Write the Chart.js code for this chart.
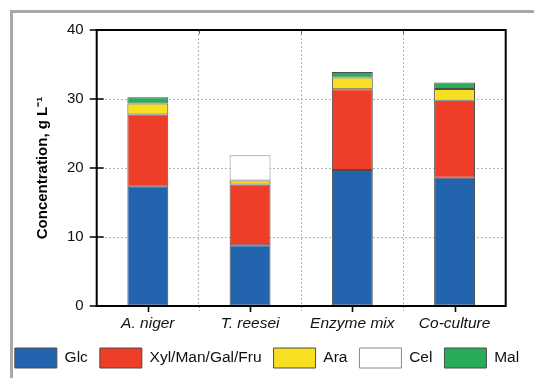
<!DOCTYPE html>
<html>
<head>
<meta charset="utf-8">
<script src="https://cdn.jsdelivr.net/npm/chart.js@4/dist/chart.umd.min.js"></script>
<style>
  html, body { margin: 0; padding: 0; background: #ffffff; }
  #wrap { width: 534px; height: 378px; }
</style>
</head>
<body>
<div id="wrap"><canvas id="c" width="534" height="378"></canvas></div>
<script>
// Sugar concentrations (g/L) after hydrolysis, per treatment
const categories = ['A. niger', 'T. reesei', 'Enzyme mix', 'Co-culture'];
const glc = [17.3, 8.8, 19.7, 18.6];
const xylManGalFru = [10.45, 8.8, 11.7, 11.15];
const ara = [1.6, 0.6, 1.7, 1.7];
const cel = [null, 3.65, null, null];
const mal = [0.9, null, 0.8, 0.95];
const yTicks = [0, 10, 20, 30, 40];

const FONT = "'Liberation Sans', Arial, sans-serif";

// Grey page frame on the left and top edges
const pageFrame = {
  id: 'pageFrame',
  beforeDraw(chart) {
    const ctx = chart.ctx;
    ctx.save();
    ctx.strokeStyle = '#a9a9a9';
    ctx.lineWidth = 3;
    ctx.beginPath();
    ctx.moveTo(11.5, chart.height);
    ctx.lineTo(11.5, 11.5);
    ctx.lineTo(chart.width, 11.5);
    ctx.stroke();
    ctx.restore();
  }
};

// Boxed plot area with crossing y ticks and category ticks
const axisBox = {
  id: 'axisBox',
  afterDatasetsDraw(chart) {
    const {ctx, chartArea: a, scales} = chart;
    const x = scales.x;
    ctx.save();
    // small marks at the category boundaries
    ctx.strokeStyle = '#666';
    ctx.lineWidth = 1;
    ctx.beginPath();
    for (let i = 1; i < categories.length; i++) {
      const xb = Math.round((x.getPixelForValue(i - 1) + x.getPixelForValue(i)) / 2) + 0.5;
      ctx.moveTo(xb, a.top);
      ctx.lineTo(xb, a.top + 4);
    }
    ctx.stroke();
    ctx.strokeStyle = '#999';
    ctx.setLineDash([2, 2]);
    ctx.beginPath();
    for (let i = 1; i < categories.length; i++) {
      const xb = Math.round((x.getPixelForValue(i - 1) + x.getPixelForValue(i)) / 2) + 0.5;
      ctx.moveTo(xb, a.bottom);
      ctx.lineTo(xb, a.bottom + 5);
    }
    ctx.stroke();
    ctx.setLineDash([]);

    ctx.strokeStyle = '#000';
    ctx.lineWidth = 2;
    ctx.strokeRect(a.left, a.top, a.right - a.left, a.bottom - a.top);
    ctx.lineWidth = 1.6;
    ctx.beginPath();
    yTicks.forEach(v => {
      const y = scales.y.getPixelForValue(v);
      ctx.moveTo(a.left - 7, y);
      ctx.lineTo(a.left + 7, y);
    });
    categories.forEach((c, i) => {
      const xc = Math.round(x.getPixelForValue(i)) + 0.5;
      ctx.moveTo(xc, a.bottom);
      ctx.lineTo(xc, a.bottom + 6);
    });
    ctx.stroke();
    ctx.restore();
  }
};

const edge = '#4d4d4d';
const datasets = [
  {label: 'Glc', data: glc, backgroundColor: '#2364ae'},
  {label: 'Xyl/Man/Gal/Fru', data: xylManGalFru, backgroundColor: '#ee3e28'},
  {label: 'Ara', data: ara, backgroundColor: '#f8df22'},
  {label: 'Cel', data: cel, backgroundColor: '#ffffff', borderColor: '#8a8a8a'},
  {label: 'Mal', data: mal, backgroundColor: '#27ad5a'}
].map(d => Object.assign({
  borderColor: edge,
  borderWidth: 1,
  borderSkipped: false,
  categoryPercentage: 0.8,
  barPercentage: 0.5
}, d));

new Chart(document.getElementById('c'), {
  type: 'bar',
  data: {labels: categories, datasets},
  plugins: [pageFrame, axisBox],
  options: {
    responsive: false,
    animation: false,
    layout: {padding: {left: 0, top: 30, right: 0, bottom: 0}},
    plugins: {
      tooltip: {enabled: false},
      legend: {
        position: 'bottom',
        labels: {
          boxWidth: 42,
          boxHeight: 20,
          padding: 12,
          color: '#111',
          font: {family: FONT, size: 15.5}
        }
      }
    },
    scales: {
      x: {
        stacked: true,
        afterFit(s) { s.height = 30; },
        grid: {offset: true, drawTicks: false, color: '#b5b5b5', lineWidth: 1},
        border: {display: false, dash: [2, 2]},
        ticks: {
          padding: 8,
          color: '#111',
          font: {family: FONT, size: 15.5, style: 'italic'}
        }
      },
      y: {
        stacked: true,
        min: 0,
        max: 40,
        afterFit(s) { s.width = 96.7; },
        afterBuildTicks(s) { s.ticks = yTicks.map(v => ({value: v})); },
        grid: {drawTicks: false, color: '#b5b5b5', lineWidth: 1},
        border: {display: false, dash: [2, 2]},
        ticks: {
          padding: 13,
          color: '#111',
          font: {family: FONT, size: 15}
        },
        title: {
          display: true,
          text: 'Concentration, g L\u207B\u00B9',
          color: '#000',
          padding: {top: 34, bottom: 0},
          font: {family: FONT, size: 15, weight: 'bold'}
        }
      },
      // empty right-hand margin beside the plot box
      yRight: {
        position: 'right',
        min: 0,
        max: 40,
        afterFit(s) { s.width = 28.3; },
        grid: {display: false},
        border: {display: false},
        ticks: {display: false}
      }
    }
  }
});
</script>
</body>
</html>
